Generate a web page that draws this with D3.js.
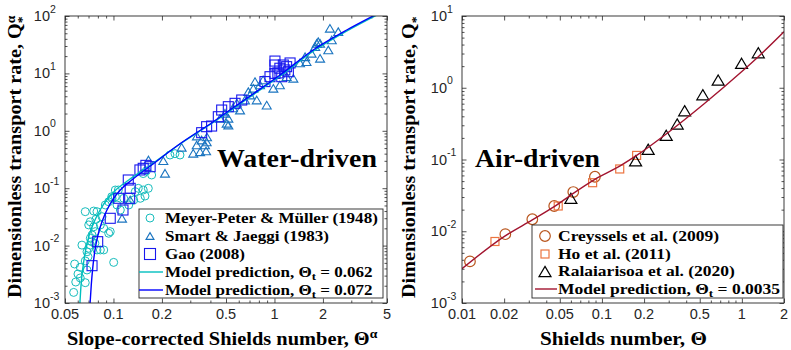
<!DOCTYPE html>
<html>
<head>
<meta charset="utf-8">
<script src="https://cdn.jsdelivr.net/npm/d3@7"></script>
<style>
  body { margin: 0; background: #fff; }
  svg { display: block; }
</style>
</head>
<body>
<svg id="chart" width="791" height="350"></svg>
<script>
// ---- water-driven panel data ----
const mpmTheta = [0.0566, 0.0583, 0.0622, 0.0668, 0.0574, 0.0622, 0.0685, 0.0668, 0.0695, 0.0685, 0.0702, 0.0718,
  0.079, 0.0829, 0.087, 0.1003, 0.0668, 0.0754, 0.079, 0.0718, 0.0754, 0.0771, 0.0736, 0.0718, 0.0829, 0.087,
  0.0934, 0.0955, 0.0849, 0.089, 0.0934, 0.098, 0.1027, 0.1052, 0.1103, 0.1158, 0.1244, 0.1336, 0.1366, 0.1468,
  0.1027, 0.1072, 0.0975, 0.1426, 0.1531, 0.1646, 0.157, 0.1727, 0.2244, 0.241, 0.259, 0.0637, 0.0602, 0.0702,
  0.0778, 0.0732, 0.0767, 0.153, 0.16];
const mpmQ = [0.00153, 0.00232, 0.00273, 0.00226, 0.00478, 0.00418, 0.00376, 0.0054, 0.0064, 0.0078, 0.009, 0.0102,
  0.0084, 0.0084, 0.0084, 0.0051, 0.039, 0.040, 0.039, 0.026, 0.0213, 0.0175, 0.0153, 0.0134, 0.0229, 0.020,
  0.0164, 0.0175, 0.0319, 0.051, 0.058, 0.0667, 0.071, 0.051, 0.0417, 0.0667, 0.051, 0.0623, 0.087, 0.0667,
  0.093, 0.093, 0.071, 0.0995, 0.093, 0.0995, 0.073, 0.17, 0.379, 0.40, 0.379, 0.0102, 0.0032, 0.0229,
  0.0287, 0.0117, 0.011, 0.18, 0.2];

const sjTheta = [0.113, 0.127, 0.165, 0.204, 0.209, 0.265, 0.313, 0.329, 0.353, 0.370, 0.376, 0.459, 0.505, 0.517,
  0.517, 0.493, 0.611, 0.656, 0.705, 0.739, 0.757, 0.813, 0.776, 0.895, 0.688, 0.984, 1.08, 1.19, 1.31, 1.55,
  1.58, 1.70, 1.83, 1.92, 1.92, 2.16, 2.27, 2.21, 2.49, 1.79, 1.87, 0.330, 0.381, 0.553, 0.584, 0.85, 1.44,
  0.345, 0.379];
const sjQ = [0.0299, 0.0623, 0.31, 0.301, 0.182, 0.516, 0.406, 0.566, 0.691, 0.566, 0.445, 1.65, 1.35, 1.65,
  1.26, 2.02, 2.30, 3.44, 4.2, 5.5, 7.2, 6.3, 3.44, 2.8, 4.8, 5.5, 6.3, 8.76, 8.2, 19.5,
  16, 22.4, 33.4, 33.4, 18.3, 25.6, 38.2, 61, 53.3, 29.2, 35.7, 0.81, 0.78, 2.5, 3.05, 7.7, 15.2,
  0.43, 0.64];

const gaoTheta = [0.0736, 0.0798, 0.0955, 0.1077, 0.1146, 0.1261, 0.127, 0.1236, 0.146, 0.153, 0.169, 0.159,
  0.353, 0.379, 0.407, 0.448, 0.47, 0.517, 0.569, 0.626, 0.873, 0.938, 1.007, 1.007, 1.08, 1.135, 1.16, 1.19,
  1.22, 1.11, 1.05, 1.25, 1.007];
const gaoQ = [0.00447, 0.0117, 0.0299, 0.0667, 0.0417, 0.0667, 0.0995, 0.139, 0.208, 0.222, 0.237, 0.25,
  0.927, 1.18, 1.21, 1.76, 2.30, 2.63, 3.01, 3.44, 7.2, 8.76, 14, 10.0, 12.3, 14, 11.5, 13.1,
  10.7, 8.76, 10.2, 15.2, 16.4];

const model062Theta = [0.0619, 0.0629, 0.0645, 0.0669, 0.0707, 0.0759, 0.0826, 0.0925, 0.1033, 0.1244, 0.1705,
  0.252, 0.418, 0.675, 1.09, 1.76, 2.84, 4.3];
const model062Q = [0.001, 0.00206, 0.00402, 0.00783, 0.0153, 0.0261, 0.0417, 0.0667, 0.0931, 0.139, 0.254,
  0.56, 1.41, 3.58, 9.1, 24.8, 55.5, 103];
const model072Theta = [0.0716, 0.0728, 0.0743, 0.0765, 0.0801, 0.0849, 0.0911, 0.1003, 0.1103, 0.1299, 0.1727,
  0.2527, 0.417, 0.672, 1.083, 1.74, 2.81, 4.21];
const model072Q = [0.001, 0.00206, 0.00402, 0.00783, 0.0153, 0.0261, 0.0417, 0.0667, 0.0931, 0.139, 0.254,
  0.566, 1.44, 3.68, 9.38, 25.6, 57, 104];

// ---- air-driven panel data ----
const creysselsTheta = [0.0114, 0.0204, 0.0318, 0.0456, 0.0624, 0.0891];
const creysselsQ = [0.0038, 0.0091, 0.0147, 0.0225, 0.0352, 0.0575];
const hoTheta = [0.0172, 0.0487, 0.0858, 0.134, 0.177];
const hoQ = [0.0072, 0.0225, 0.0475, 0.0738, 0.114];
const ralaTheta = [0.060, 0.174, 0.214, 0.288, 0.345, 0.39, 0.526, 0.677, 0.995, 1.31];
const ralaQ = [0.0288, 0.096, 0.139, 0.217, 0.313, 0.479, 0.80, 1.28, 2.19, 3.08];
const modelAirTheta = [0.01, 0.0201, 0.0318, 0.0456, 0.0624, 0.0891, 0.134, 0.177, 0.288, 0.535, 0.995, 1.31, 2.0];
const modelAirQ = [0.003, 0.0085, 0.0144, 0.022, 0.0338, 0.053, 0.081, 0.114, 0.227, 0.594, 1.67, 2.71, 6.04];

// ---- ticks ----
const waterXTicks = [0.05, 0.1, 0.2, 0.5, 1, 2, 5];
const waterXLabels = ['0.05', '0.1', '0.2', '0.5', '1', '2', '5'];
const waterYExps = [-3, -2, -1, 0, 1, 2];
const airXTicks = [0.01, 0.02, 0.05, 0.1, 0.2, 0.5, 1, 2];
const airXLabels = ['0.01', '0.02', '0.05', '0.1', '0.2', '0.5', '1', '2'];
const airYExps = [-3, -2, -1, 0, 1];

const svg = d3.select('#chart');
const serif = '"Liberation Serif", "DejaVu Serif", serif';
const sans = '"Liberation Sans", Arial, sans-serif';
const axisColor = '#262626';
const plotTop = 16, plotBottom = 303;

const zip = (a, b) => a.map((v, i) => [v, b[i]]);

function measure(str, size) {
  const t = svg.append('text').attr('font-family', serif).attr('font-weight', 'bold')
    .attr('font-size', size).text(str);
  const w = t.node().getComputedTextLength();
  t.remove();
  return w;
}

// bold serif text made of tspans, stretched horizontally by sx
function richText(parent, x, y, parts, size, sx, rot) {
  const t = parent.append('text')
    .attr('font-family', serif).attr('font-weight', 'bold')
    .attr('font-size', size).attr('fill', '#000')
    .attr('transform', `translate(${x},${y})${rot ? ' rotate(-90)' : ''} scale(${sx},1)`);
  parts.forEach(p => {
    const s = t.append('tspan').text(p.t);
    if (p.fs) s.attr('font-size', p.fs);
    if (p.dy) s.attr('dy', p.dy);
    if (p.dx) s.attr('dx', p.dx);
  });
  return t;
}

const triPath = (w, h) => `M0,${-h / 2}L${w / 2},${h / 2}L${-w / 2},${h / 2}Z`;

function drawPanel(cfg) {
  const x = d3.scaleLog().domain(cfg.xDomain).range([cfg.left, cfg.right]);
  const y = d3.scaleLog().domain(cfg.yDomain).range([plotBottom, plotTop]);
  const g = svg.append('g');

  const clipId = 'clip' + cfg.left;
  svg.append('clipPath').attr('id', clipId).append('rect')
    .attr('x', cfg.left).attr('y', plotTop)
    .attr('width', cfg.right - cfg.left).attr('height', plotBottom - plotTop);

  // ticks (inward, on all four sides)
  const isMajorX = v => cfg.xTicks.some(m => Math.abs(m - v) / v < 1e-6);
  const xMinor = x.ticks().filter(v => !isMajorX(v));
  const yMajor = cfg.yExps.map(e => Math.pow(10, e));
  const yMinor = y.ticks().filter(v => !yMajor.some(m => Math.abs(m - v) / v < 1e-6));

  const tickLayer = (axisFn, scale, vals, size, tx, ty) => {
    g.append('g').attr('transform', `translate(${tx},${ty})`)
      .call(axisFn(scale).tickValues(vals).tickSize(size).tickFormat(''))
      .call(s => s.select('.domain').remove())
      .call(s => s.selectAll('line').attr('stroke', axisColor).attr('stroke-width', 0.8));
  };
  [[cfg.xTicks, -4.5], [xMinor, -2.5]].forEach(([vals, sz]) => {
    tickLayer(d3.axisBottom, x, vals, sz, 0, plotBottom);
    tickLayer(d3.axisTop, x, vals, sz, 0, plotTop);
  });
  [[yMajor, -4.5], [yMinor, -2.5]].forEach(([vals, sz]) => {
    tickLayer(d3.axisLeft, y, vals, sz, cfg.left, 0);
    tickLayer(d3.axisRight, y, vals, sz, cfg.right, 0);
  });

  // tick labels
  g.selectAll('.xl').data(cfg.xTicks).join('text')
    .attr('x', d => x(d)).attr('y', plotBottom + 16)
    .attr('text-anchor', 'middle').attr('font-family', sans).attr('font-size', 14.5)
    .attr('fill', axisColor).text((d, i) => cfg.xLabels[i]);
  g.selectAll('.yl').data(cfg.yExps).join('text')
    .attr('x', cfg.left - 15).attr('y', d => y(Math.pow(10, d)) + 5)
    .attr('text-anchor', 'end').attr('font-family', sans).attr('font-size', 14.5)
    .attr('fill', axisColor).text('10');
  g.selectAll('.ye').data(cfg.yExps).join('text')
    .attr('x', cfg.left - 15).attr('y', d => y(Math.pow(10, d)) - 3.5)
    .attr('font-family', sans).attr('font-size', 10.5)
    .attr('fill', axisColor).text(d => d < 0 ? '-' + Math.abs(d) : String(d));

  const data = svg.append('g').attr('clip-path', `url(#${clipId})`);
  cfg.series.forEach(s => {
    const pts = zip(s.theta, s.q);
    if (s.type === 'line') {
      data.append('path').datum(pts)
        .attr('fill', 'none').attr('stroke', s.color).attr('stroke-width', 1.4)
        .attr('d', d3.line().x(d => x(d[0])).y(d => y(d[1])).curve(d3.curveMonotoneX));
    } else if (s.type === 'circle') {
      data.selectAll(null).data(pts).join('circle')
        .attr('cx', d => x(d[0])).attr('cy', d => y(d[1])).attr('r', s.size)
        .attr('fill', 'none').attr('stroke', s.color).attr('stroke-width', s.sw);
    } else if (s.type === 'square') {
      data.selectAll(null).data(pts).join('rect')
        .attr('x', d => x(d[0]) - s.size / 2).attr('y', d => y(d[1]) - s.size / 2)
        .attr('width', s.size).attr('height', s.size)
        .attr('fill', 'none').attr('stroke', s.color).attr('stroke-width', s.sw);
    } else {
      data.selectAll(null).data(pts).join('path')
        .attr('transform', d => `translate(${x(d[0])},${y(d[1])})`)
        .attr('d', triPath(s.size, s.size * 0.85))
        .attr('fill', 'none').attr('stroke', s.color).attr('stroke-width', s.sw);
    }
  });

  // frame
  svg.append('rect').attr('x', cfg.left).attr('y', plotTop)
    .attr('width', cfg.right - cfg.left).attr('height', plotBottom - plotTop)
    .attr('fill', 'none').attr('stroke', axisColor).attr('stroke-width', 0.9);

  // legend
  const L = cfg.legend;
  const lg = svg.append('g');
  lg.append('rect').attr('x', L.x).attr('y', L.y).attr('width', L.w).attr('height', L.h)
    .attr('fill', '#fff').attr('stroke', axisColor).attr('stroke-width', 0.9);
  const lsx = L.fitW / measure(L.fitStr, 14);
  L.items.forEach((it, i) => {
    const cy = L.rows[i];
    const s = cfg.series[it.series];
    if (s.type === 'line') {
      lg.append('line').attr('x1', L.lineX[0]).attr('x2', L.lineX[1]).attr('y1', cy).attr('y2', cy)
        .attr('stroke', s.color).attr('stroke-width', 1.4);
    } else if (s.type === 'circle') {
      lg.append('circle').attr('cx', L.markX).attr('cy', cy).attr('r', it.size)
        .attr('fill', 'none').attr('stroke', s.color).attr('stroke-width', s.sw);
    } else if (s.type === 'square') {
      lg.append('rect').attr('x', L.markX - it.size / 2).attr('y', cy - it.size / 2)
        .attr('width', it.size).attr('height', it.size)
        .attr('fill', 'none').attr('stroke', s.color).attr('stroke-width', s.sw);
    } else {
      lg.append('path').attr('transform', `translate(${L.markX},${cy})`)
        .attr('d', triPath(it.size, it.size * 0.85))
        .attr('fill', 'none').attr('stroke', s.color).attr('stroke-width', s.sw);
    }
    richText(lg, L.textX, cy + 4.8, it.parts, 14, lsx, false);
  });

  // annotation + axis labels
  const a = cfg.note;
  richText(svg, a.x, a.y, [{ t: a.text }], 26, a.w / measure(a.text, 26), false);
  const xl = cfg.xLabel;
  richText(svg, xl.x, 345, xl.parts, 18.5, xl.w / measure(xl.parts[0].t, 18.5), false);
  const yl = cfg.yLabel;
  richText(svg, yl.x, 298, yl.parts, 18.5, yl.w / measure(yl.parts[0].t, 18.5), true);
}

const thetaT = v => [{ t: 'Model prediction, Θ' }, { t: 't', fs: 10.5, dy: 3 }, { t: ' = ' + v, dy: -3 }];

drawPanel({
  left: 65, right: 387, xDomain: [0.05, 5], yDomain: [1e-3, 1e2],
  xTicks: waterXTicks, xLabels: waterXLabels, yExps: waterYExps,
  series: [
    { type: 'circle', theta: mpmTheta, q: mpmQ, color: '#17BDBD', size: 4, sw: 1 },
    { type: 'tri', theta: sjTheta, q: sjQ, color: '#1A74C0', size: 9, sw: 1.1 },
    { type: 'square', theta: gaoTheta, q: gaoQ, color: '#1818EE', size: 10, sw: 1.1 },
    { type: 'line', theta: model062Theta, q: model062Q, color: '#00BFBF' },
    { type: 'line', theta: model072Theta, q: model072Q, color: '#0000FF' }
  ],
  legend: {
    x: 139, y: 209, w: 244, h: 89, rows: [218, 236, 254, 272, 290],
    markX: 150, lineX: [139, 163], textX: 165,
    fitStr: 'Meyer-Peter & Müller (1948)', fitW: 213,
    items: [
      { series: 0, size: 4, parts: [{ t: 'Meyer-Peter & Müller (1948)' }] },
      { series: 1, size: 8, parts: [{ t: 'Smart & Jaeggi (1983)' }] },
      { series: 2, size: 11, parts: [{ t: 'Gao (2008)' }] },
      { series: 3, parts: thetaT('0.062') },
      { series: 4, parts: thetaT('0.072') }
    ]
  },
  note: { text: 'Water-driven', x: 217, y: 167, w: 160 },
  xLabel: { x: 67, w: 303, parts: [{ t: 'Slope-corrected Shields number, Θ' }, { t: 'α', fs: 12.5, dy: -7 }] },
  yLabel: { x: 21, w: 275, parts: [{ t: 'Dimensionless transport rate, Q' }, { t: 'α', fs: 12.5, dy: -6 }, { t: '*', fs: 12.5, dx: -7, dy: 11 }] }
});

drawPanel({
  left: 462, right: 784, xDomain: [0.01, 2], yDomain: [1e-3, 1e1],
  xTicks: airXTicks, xLabels: airXLabels, yExps: airYExps,
  series: [
    { type: 'circle', theta: creysselsTheta, q: creysselsQ, color: '#B9561E', size: 5.3, sw: 1.2 },
    { type: 'square', theta: hoTheta, q: hoQ, color: '#EC7440', size: 8, sw: 1.2 },
    { type: 'tri', theta: ralaTheta, q: ralaQ, color: '#000000', size: 12, sw: 1.2 },
    { type: 'line', theta: modelAirTheta, q: modelAirQ, color: '#A2142F' }
  ],
  legend: {
    x: 532, y: 225, w: 251, h: 73, rows: [236, 254, 271.5, 289],
    markX: 545, lineX: [535, 557], textX: 558,
    fitStr: 'Ralaiarisoa et al. (2020)', fitW: 177,
    items: [
      { series: 0, size: 5.3, parts: [{ t: 'Creyssels et al. (2009)' }] },
      { series: 1, size: 8, parts: [{ t: 'Ho et al. (2011)' }] },
      { series: 2, size: 12, parts: [{ t: 'Ralaiarisoa et al. (2020)' }] },
      { series: 3, parts: thetaT('0.0035') }
    ]
  },
  note: { text: 'Air-driven', x: 475, y: 167, w: 125 },
  xLabel: { x: 540, w: 167, parts: [{ t: 'Shields number, Θ' }] },
  yLabel: { x: 415, w: 275, parts: [{ t: 'Dimensionless transport rate, Q' }, { t: '*', fs: 12.5, dy: 5 }] }
});
</script>
</body>
</html>
